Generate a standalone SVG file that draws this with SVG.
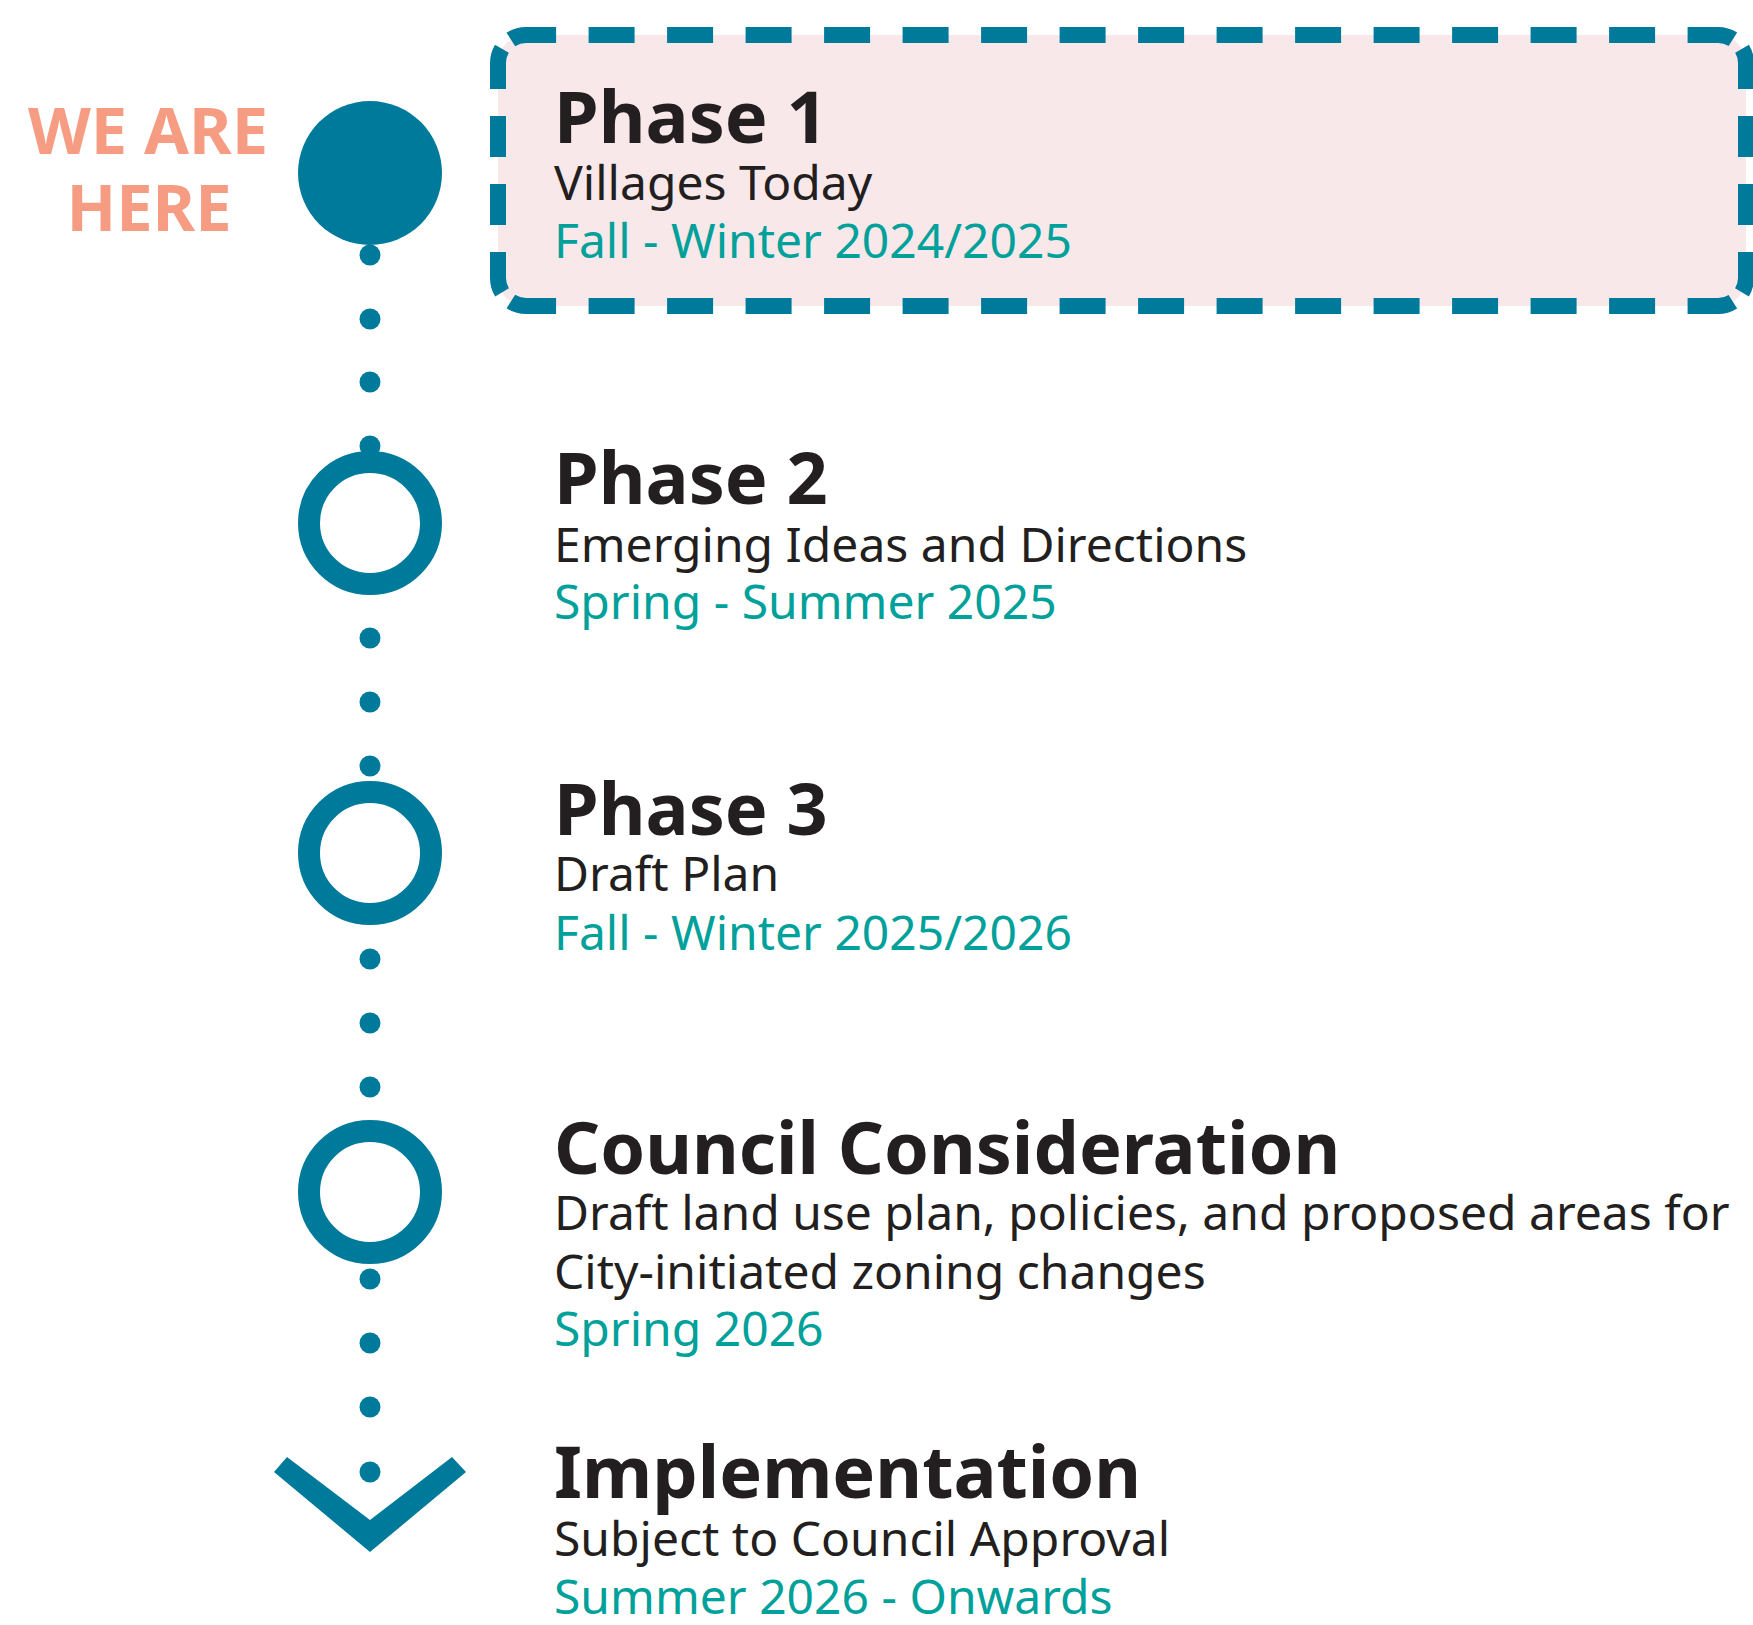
<svg xmlns="http://www.w3.org/2000/svg" width="1753" height="1625" viewBox="0 0 1753 1625">
<style>
.title{font-family:"Noto Sans","Open Sans",sans-serif;font-weight:700;font-size:72px;fill:#231F20}
.sub{font-family:"Noto Sans","Open Sans",sans-serif;font-size:48px;fill:#231F20}
.date{font-family:"Noto Sans","Open Sans",sans-serif;font-size:48px;fill:#00A19A}
.here{font-family:"Noto Sans","Open Sans",sans-serif;font-weight:700;font-size:65px;fill:#F59C82}
.ring{fill:none;stroke:#007A9B;stroke-width:22}
.dot{fill:#007A9B}
.dh{fill:none;stroke:#007A9B;stroke-width:16;stroke-dasharray:46 32.5;stroke-dashoffset:72.5}
.dv{fill:none;stroke:#007A9B;stroke-width:16;stroke-dasharray:41 27;stroke-dashoffset:61}
</style>
<rect width="1753" height="1625" fill="#FFFFFF"/>
<g id="connectors">
  <circle class="dot" cx="370" cy="255" r="10.5"/>
  <circle class="dot" cx="370" cy="319" r="10.5"/>
  <circle class="dot" cx="370" cy="382" r="10.5"/>
  <circle class="dot" cx="370" cy="446" r="10.5"/>
  <circle class="dot" cx="370" cy="638" r="10.5"/>
  <circle class="dot" cx="370" cy="702" r="10.5"/>
  <circle class="dot" cx="370" cy="766" r="10.5"/>
  <circle class="dot" cx="370" cy="959" r="10.5"/>
  <circle class="dot" cx="370" cy="1023" r="10.5"/>
  <circle class="dot" cx="370" cy="1087" r="10.5"/>
  <circle class="dot" cx="370" cy="1279" r="10.5"/>
  <circle class="dot" cx="370" cy="1343" r="10.5"/>
  <circle class="dot" cx="370" cy="1407" r="10.5"/>
  <circle class="dot" cx="370" cy="1472" r="10.5"/>
</g>
<g id="we-are-here">
  <text class="here" x="148" y="154" text-anchor="middle">WE ARE</text>
  <text class="here" x="149" y="231" text-anchor="middle">HERE</text>
</g>
<g id="phase1">
  <circle cx="370" cy="173" r="72" fill="#007A9B"/>
  <rect x="498" y="35" width="1248" height="271" rx="28" fill="#F8E8EA"/>
  <path class="dh" d="M506.2,43.2 A28,28 0 0 1 526,35 H1718 A28,28 0 0 1 1737.8,43.2"/>
  <path class="dh" d="M506.2,297.8 A28,28 0 0 0 526,306 H1718 A28,28 0 0 0 1737.8,297.8"/>
  <path class="dv" d="M506.2,43.2 A28,28 0 0 0 498,63 V278 A28,28 0 0 0 506.2,297.8"/>
  <path class="dv" d="M1737.8,43.2 A28,28 0 0 1 1746,63 V278 A28,28 0 0 1 1737.8,297.8"/>
  <text class="title" x="554" y="143">Phase 1</text>
  <text class="sub" x="554" y="200">Villages Today</text>
  <text class="date" x="554" y="258">Fall - Winter 2024/2025</text>
</g>
<g id="phase2">
  <circle class="ring" cx="370" cy="523" r="61"/>
  <text class="title" x="554" y="504">Phase 2</text>
  <text class="sub" x="554" y="562">Emerging Ideas and Directions</text>
  <text class="date" x="554" y="619">Spring - Summer 2025</text>
</g>
<g id="phase3">
  <circle class="ring" cx="370" cy="853" r="61"/>
  <text class="title" x="554" y="835">Phase 3</text>
  <text class="sub" x="554" y="891">Draft Plan</text>
  <text class="date" x="554" y="950">Fall - Winter 2025/2026</text>
</g>
<g id="council">
  <circle class="ring" cx="370" cy="1192" r="61"/>
  <text class="title" x="554" y="1174">Council Consideration</text>
  <text class="sub" x="554" y="1230">Draft land use plan, policies, and proposed areas for</text>
  <text class="sub" x="554" y="1289">City-initiated zoning changes</text>
  <text class="date" x="554" y="1346">Spring 2026</text>
</g>
<g id="implementation">
  <polygon points="287,1457 370,1520 452,1457 466,1472 370,1552 274,1472" fill="#007A9B"/>
  <text class="title" x="554" y="1498">Implementation</text>
  <text class="sub" x="554" y="1556">Subject to Council Approval</text>
  <text class="date" x="554" y="1614">Summer 2026 - Onwards</text>
</g>
</svg>
